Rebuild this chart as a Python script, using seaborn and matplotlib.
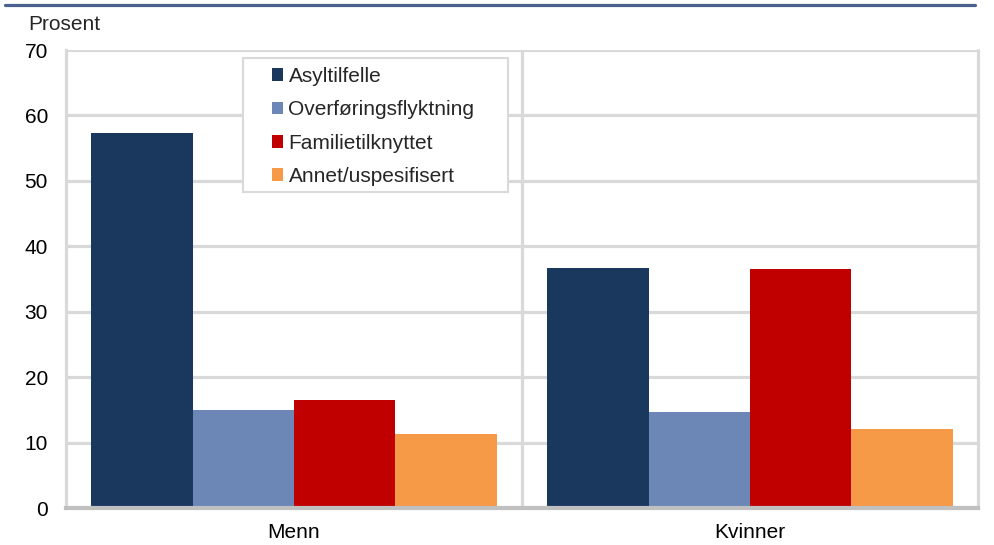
import matplotlib
matplotlib.use("Agg")
import matplotlib.pyplot as plt
import seaborn as sns
import pandas as pd
from matplotlib.lines import Line2D
from matplotlib.patches import Rectangle

categories = ["Menn", "Kvinner"]
series = ["Asyltilfelle", "Overføringsflyktning", "Familietilknyttet", "Annet/uspesifisert"]
menn = [57.3, 15.0, 16.5, 11.3]
kvinner = [36.7, 14.7, 36.5, 12.1]
colors = ["#1a375e", "#6c87b6", "#c00000", "#f79a48"]
yticks = [0, 10, 20, 30, 40, 50, 60, 70]

rows = []
for s, m, k in zip(series, menn, kvinner):
    rows.append({"kjonn": "Menn", "gruppe": s, "verdi": m})
    rows.append({"kjonn": "Kvinner", "gruppe": s, "verdi": k})
df = pd.DataFrame(rows)

sns.set_theme(style="white")
plt.rcParams["font.family"] = ["Liberation Sans", "DejaVu Sans"]

fig = plt.figure(figsize=(9.94, 5.45), dpi=100)
ax = fig.add_axes([66 / 994, 1 - 508 / 545, 912 / 994, 458 / 545])

sns.barplot(data=df, x="kjonn", y="verdi", hue="gruppe", order=categories,
            hue_order=series, palette=colors, width=0.89, saturation=1,
            edgecolor="none", linewidth=0, ax=ax, legend=False, zorder=3)

ax.set_xlim(-0.5, 1.5)
ax.set_ylim(0, 70)
ax.set_yticks(yticks)
ax.set_yticklabels([str(t) for t in yticks])
ax.set_xlabel("")
ax.set_ylabel("")
ax.tick_params(axis="y", length=0, pad=13, labelsize=15, colors="black")
ax.tick_params(axis="x", length=0, pad=11, labelsize=15, colors="black")

grid_c = "#d9d9d9"
for t in yticks[1:]:
    ax.axhline(t, color=grid_c, lw=2.3, zorder=1)
ax.axvline(0.5, color=grid_c, lw=2.3, zorder=1)
ax.axvline(1.5, color=grid_c, lw=2.3, zorder=1, clip_on=False)
for s in ["top", "right"]:
    ax.spines[s].set_visible(False)
ax.spines["left"].set_color(grid_c)
ax.spines["left"].set_linewidth(2.3)
ax.spines["bottom"].set_color("#c0c0c0")
ax.spines["bottom"].set_linewidth(3)
ax.spines["bottom"].set_zorder(4)

# legend
handles = [Rectangle((0, 0), 1, 1, facecolor=c, edgecolor="none") for c in colors]
leg = ax.legend(handles, series, loc="upper left",
                bbox_to_anchor=((272 - 66) / 912, (508 - 67) / 458),
                frameon=False, borderpad=0, borderaxespad=0, fontsize=15,
                handlelength=0.55, handleheight=0.55, handletextpad=0.24,
                labelspacing=0.69)
leg.set_zorder(6)
frame = Rectangle(((243 - 66) / 912, (508 - 192) / 458), 265 / 912, 134 / 458,
                  transform=ax.transAxes, facecolor="white", edgecolor=grid_c,
                  lw=1.5, zorder=5)
ax.add_patch(frame)

fig.text(28 / 994, 1 - 24 / 545, "Prosent", fontsize=15, va="center", ha="left")
fig.add_artist(Line2D([5 / 994, 975 / 994], [1 - 5 / 545, 1 - 5 / 545],
                      color="#4a6190", lw=2.3, transform=fig.transFigure))

fig.savefig("out.png", dpi=100)
